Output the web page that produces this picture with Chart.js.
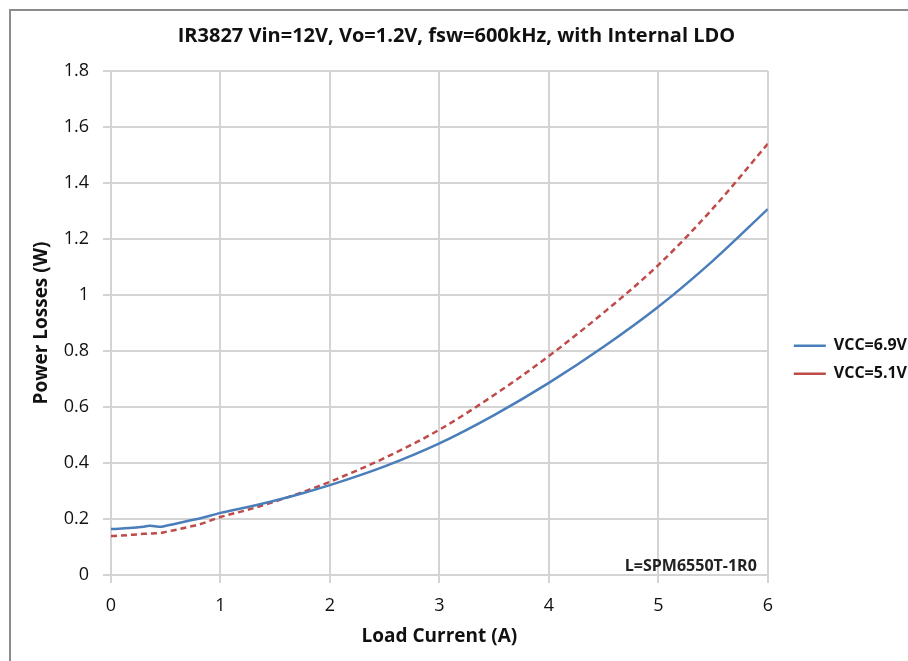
<!DOCTYPE html>
<html>
<head>
<meta charset="utf-8">
<script src="https://cdn.jsdelivr.net/npm/chart.js@4/dist/chart.umd.min.js"></script>
<style>
  html, body { margin: 0; padding: 0; background: #fff; }
  #wrap { position: relative; width: 908px; height: 661px; }
  #frame { position: absolute; left: 9px; top: 9px; right: -2px; bottom: -2px;
           border-left: 2px solid #8c8c8c; border-top: 2px solid #8c8c8c; }
  canvas { position: absolute; left: 0; top: 0; }
</style>
</head>
<body>
<div id="wrap">
  <div id="frame"></div>
  <canvas id="lossChart" width="908" height="661"></canvas>
</div>
<script>
// Load current (A)
const loadCurrent = [0, 0.1, 0.2, 0.3, 0.35, 0.4, 0.45, 0.5, 0.6, 0.7, 0.8, 1, 1.25, 1.5, 1.75, 2, 2.5, 3, 3.5, 4, 4.5, 5, 5.5, 6];
// Power losses (W) for each VCC
const lossVcc69 = [0.164, 0.166, 0.169, 0.172, 0.176, 0.174, 0.172, 0.176, 0.184, 0.193, 0.201, 0.222, 0.243, 0.266, 0.292, 0.321, 0.388, 0.470, 0.571, 0.686, 0.815, 0.958, 1.123, 1.307];
const lossVcc51 = [0.139, 0.141, 0.144, 0.147, 0.148, 0.149, 0.150, 0.154, 0.162, 0.171, 0.180, 0.207, 0.233, 0.263, 0.296, 0.333, 0.418, 0.519, 0.643, 0.782, 0.937, 1.107, 1.310, 1.540];
const seriesNames = ['VCC=6.9V', 'VCC=5.1V'];
const xTicks = [0, 1, 2, 3, 4, 5, 6];
const yTicks = [0, 0.2, 0.4, 0.6, 0.8, 1, 1.2, 1.4, 1.6, 1.8];

const FONT = '"Open Sans", Lato, sans-serif';

const toPoints = (ys) => loadCurrent.map((x, i) => ({ x: x, y: ys[i] }));

// inductor note in the lower right corner of the plot
const notePlugin = {
    id: 'note',
    afterLayout(chart) {
        // push the legend a little away from the plot
        chart.legend.left += 14;
        chart.legend.right += 14;
    },
    afterDraw(chart) {
        const { ctx, chartArea } = chart;
        ctx.save();
        ctx.font = 'bold 16px ' + FONT;
        ctx.fillStyle = '#222';
        ctx.textAlign = 'right';
        ctx.textBaseline = 'alphabetic';
        ctx.fillText('L=SPM6550T-1R0', chartArea.right - 11, chartArea.bottom - 4);
        ctx.restore();
    }
};

const ctx = document.getElementById('lossChart').getContext('2d');
new Chart(ctx, {
    type: 'line',
    data: {
        datasets: [{
            label: seriesNames[0],
            data: toPoints(lossVcc69),
            borderColor: '#4a7ebb',
            borderWidth: 2.5,
            pointRadius: 0,
            cubicInterpolationMode: 'monotone',
            fill: false
        }, {
            label: seriesNames[1],
            data: toPoints(lossVcc51),
            borderColor: '#be4b48',
            borderWidth: 2.5,
            borderDash: [6, 4],
            pointRadius: 0,
            cubicInterpolationMode: 'monotone',
            fill: false
        }]
    },
    options: {
        responsive: false,
        animation: false,
        layout: { padding: { left: 10, right: 5, top: 0, bottom: 0 } },
        scales: {
            x: {
                type: 'linear',
                min: 0,
                max: 6,
                afterBuildTicks: (scale) => { scale.ticks = xTicks.map(v => ({ value: v })); },
                afterFit: (scale) => { scale.height = 86; },
                grid: { color: '#d4d4d4', lineWidth: 2, tickLength: 8 },
                border: { display: false },
                ticks: { color: '#111', font: { family: FONT, size: 18 }, padding: 12, maxRotation: 0 },
                title: { display: true, text: 'Load Current (A)', color: '#111',
                         font: { family: FONT, size: 19, weight: 'bold' }, padding: { top: 4, bottom: 13 } }
            },
            y: {
                min: 0,
                max: 1.8,
                afterBuildTicks: (scale) => { scale.ticks = yTicks.map(v => ({ value: v })); },
                afterFit: (scale) => { scale.width = 101; },
                grid: { color: '#d4d4d4', lineWidth: 2, tickLength: 8 },
                border: { display: false },
                ticks: { color: '#111', font: { family: FONT, size: 18 }, padding: 14,
                         callback: (v) => String(+v.toFixed(1)) },
                title: { display: true, text: 'Power Losses (W)', color: '#111',
                         font: { family: FONT, size: 19, weight: 'bold' }, padding: { top: 20, bottom: 0 } }
            }
        },
        plugins: {
            title: {
                display: true,
                text: 'IR3827 Vin=12V, Vo=1.2V, fsw=600kHz, with Internal LDO',
                color: '#111',
                font: { family: FONT, size: 20, weight: 'bold' },
                padding: { top: 24, bottom: 23 }
            },
            legend: {
                display: true,
                position: 'right',
                title: { display: true, text: '', padding: { top: 0, bottom: 44 } },
                labels: {
                    color: '#111',
                    font: { family: FONT, size: 16, weight: 'bold' },
                    usePointStyle: true,
                    pointStyle: 'line',
                    pointStyleWidth: 32,
                    padding: 12
                }
            },
            tooltip: { enabled: false }
        }
    },
    plugins: [notePlugin]
});
</script>
</body>
</html>
